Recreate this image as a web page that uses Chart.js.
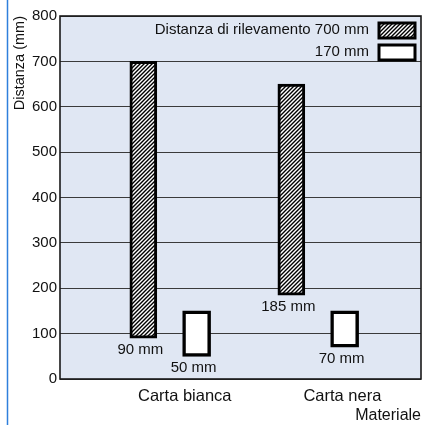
<!DOCTYPE html>
<html>
<head>
<meta charset="utf-8">
<script src="https://cdn.jsdelivr.net/npm/chart.js@4.4.1/dist/chart.umd.min.js"></script>
<style>
  html,body{margin:0;padding:0;background:#fff;}
  #wrap{position:relative;width:424px;height:425px;}
</style>
</head>
<body>
<div id="wrap"><canvas id="c" width="424" height="425"></canvas></div>
<script>
/* Distanza di rilevamento per materiale */
const categories=['Carta bianca','Carta nera'];
const range700Low=[90,185];
const range700High=[700,650];
const range170Low=[50,70];
const range170High=[150,150];
const legendLabels=['Distanza di rilevamento 700 mm','170 mm'];
const yMin=0, yMax=800, yStep=100;

// layout only (x units: one category = 1)
const BAR_SHIFT=0.18;
const LABEL_SHIFT=[0.1,0.165];
const FONT='"Liberation Sans", Arial, Helvetica, sans-serif';

function hatch(){
  const s=4,cv=document.createElement('canvas');cv.width=s;cv.height=s;
  const g=cv.getContext('2d');g.fillStyle='#fff';g.fillRect(0,0,s,s);
  g.strokeStyle='#000';g.lineWidth=1.4;g.beginPath();
  g.moveTo(0,s);g.lineTo(s,0);g.moveTo(-1,1);g.lineTo(1,-1);g.moveTo(s-1,s+1);g.lineTo(s+1,s-1);g.stroke();
  return g.createPattern(cv,'repeat');
}
const pat=hatch();

function pts(lo,hi,shift){return categories.map((c,i)=>({x:i+shift,y:[lo[i],hi[i]]}));}

const framePlugin={
  id:'frame',
  beforeDraw(chart){
    const {ctx,chartArea:a}=chart;
    ctx.save();
    ctx.strokeStyle='#2f7fdc';ctx.lineWidth=1.5;
    ctx.beginPath();ctx.moveTo(7.5,0);ctx.lineTo(7.5,chart.height);ctx.stroke();
    ctx.fillStyle='#e0e7f3';ctx.fillRect(a.left,a.top,a.right-a.left,a.bottom-a.top);
    ctx.restore();
  },
  afterDatasetsDraw(chart){
    const {ctx,chartArea:a}=chart;
    ctx.save();
    // value labels below each bar
    ctx.fillStyle='#111';ctx.font='15px '+FONT;ctx.textAlign='center';ctx.textBaseline='middle';
    chart.data.datasets.forEach((ds,di)=>{
      chart.getDatasetMeta(di).data.forEach((el,i)=>{
        ctx.fillText(ds.data[i].y[0]+' mm',el.x-3,el.base+12);
      });
    });
    // legend
    const fills=[pat,'#fff'];
    legendLabels.forEach((t,i)=>{
      const y=a.top+14+i*22;
      ctx.textAlign='right';ctx.fillText(t,a.right-52,y);
      ctx.fillStyle=fills[i];ctx.fillRect(a.right-42,y-7,36,15);
      ctx.strokeStyle='#000';ctx.lineWidth=3;ctx.strokeRect(a.right-42,y-7,36,15);
      ctx.fillStyle='#111';
    });
    // frame
    ctx.strokeStyle='#1a1a1a';ctx.lineWidth=1.6;
    ctx.strokeRect(a.left,a.top,a.right-a.left,a.bottom-a.top);
    ctx.restore();
  }
};

new Chart(document.getElementById('c'),{
  type:'bar',
  data:{datasets:[
    {label:legendLabels[0],data:pts(range700Low,range700High,-BAR_SHIFT),backgroundColor:pat,borderColor:'#000',borderWidth:3,borderSkipped:false,barThickness:27,grouped:false},
    {label:legendLabels[1],data:pts(range170Low,range170High,BAR_SHIFT),backgroundColor:'#fff',borderColor:'#000',borderWidth:3.5,borderSkipped:false,barThickness:28,grouped:false}
  ]},
  options:{
    responsive:false,animation:false,
    layout:{padding:{top:16,right:3,left:0,bottom:0}},
    plugins:{legend:{display:false},tooltip:{enabled:false}},
    scales:{
      x:{type:'linear',min:-0.743,max:1.696,offset:false,
        grid:{display:false,drawTicks:false,offset:false},border:{display:false},
        afterBuildTicks:s=>{s.ticks=categories.map((c,i)=>({value:i+LABEL_SHIFT[i]}));},
        ticks:{color:'#111',font:{family:FONT,size:16.5},padding:8,maxRotation:0,
          callback:(v,i)=>categories[i]},
        title:{display:true,text:'Materiale',align:'end',color:'#111',font:{family:FONT,size:16},padding:{top:0,bottom:0}},
        afterFit:s=>{s.height=46;}
      },
      y:{min:yMin,max:yMax,
        grid:{color:'#3a3a3a',lineWidth:1,drawTicks:false},border:{display:false},
        ticks:{stepSize:yStep,color:'#111',font:{family:FONT,size:15},padding:3},
        title:{display:true,text:'Distanza (mm)',align:'end',color:'#111',font:{family:FONT,size:14.5},padding:{top:11,bottom:0}},
        afterFit:s=>{s.width=60;}
      }
    }
  },
  plugins:[framePlugin]
});
</script>
</body>
</html>
